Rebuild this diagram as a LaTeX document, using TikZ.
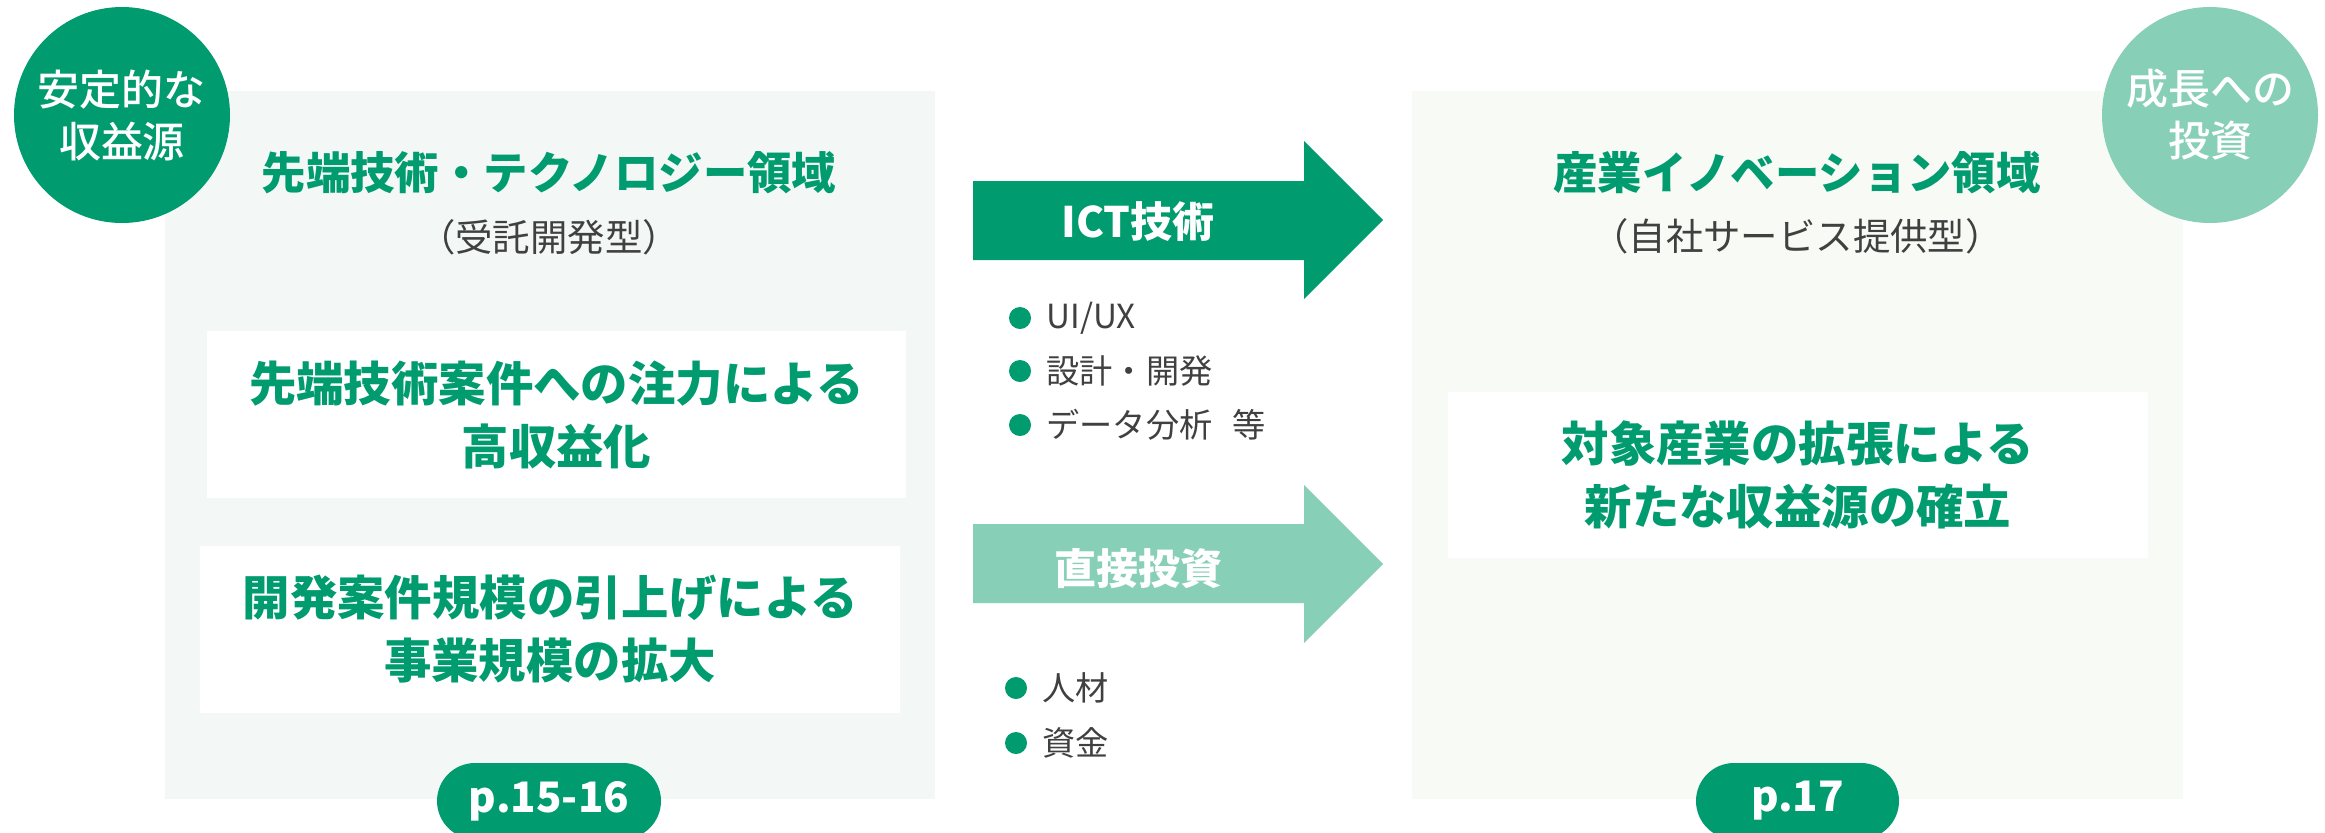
\documentclass[tikz,border=0pt]{standalone}
\usepackage{fontspec}
\setmainfont{Noto Sans CJK JP}
\newfontfamily\medfont{Noto Sans CJK JP Medium}
\definecolor{dg}{HTML}{009B6E}
\definecolor{lg}{HTML}{88CFB8}
\definecolor{bgl}{HTML}{F3F8F6}
\definecolor{bgr}{HTML}{F7FAF5}
\definecolor{gr}{HTML}{404040}
\tikzset{
  panel/.style={inner sep=0pt, minimum width=385pt, minimum height=354pt},
  wbox/.style={fill=white, inner sep=0pt, minimum width=350pt, minimum height=83.5pt, align=center, text=dg, font=\bfseries\fontsize{23.7pt}{31.5pt}\selectfont},
  ttl/.style={text=dg, inner sep=0pt, font=\bfseries\fontsize{22.2pt}{26pt}\selectfont},
  subttl/.style={text=gr, inner sep=0pt, font=\fontsize{18.7pt}{22pt}\selectfont},
  badge/.style={circle, inner sep=0pt, minimum size=108pt, align=center, text=white, font=\medfont\fontsize{21pt}{26pt}\selectfont},
  pill/.style={fill=dg, rounded corners=19pt, inner sep=0pt, minimum height=38pt, text=white, font=\bfseries\fontsize{21pt}{24pt}\selectfont},
  arrlabel/.style={text=white, inner sep=0pt, font=\bfseries\fontsize{21pt}{24pt}\selectfont},
  dot/.style={circle, fill=dg, inner sep=0pt, minimum size=11pt},
  btext/.style={anchor=west, text=gr, inner sep=0pt, font=\fontsize{16.6pt}{20pt}\selectfont}
}
\begin{document}
\begin{tikzpicture}[x=0.5pt, y=-0.5pt]
\path[use as bounding box, fill=white] (0,0) rectangle (2325,832);
\begin{scope}
\clip (0,0) rectangle (2325,832);
% panels
\node[panel, fill=bgl] (lp) at (550,445) {};
\node[panel, fill=bgr, minimum width=385.5pt] (rp) at (1797.5,445) {};
% left panel content
\node[ttl] (lt) at (549,173) {先端技術・テクノロジー領域};
\node[subttl] (ls) at (549,237) {（受託開発型）};
\node[wbox, minimum width=349.5pt] (b1) at (556.5,414.5) {先端技術案件への注力による\\高収益化};
\node[wbox] (b2) at (550,629.5) {開発案件規模の引上げによる\\事業規模の拡大};
\node[pill, minimum width=112pt] (p1) at (549,801) {p.15-16};
% right panel content
\node[ttl] (rt) at (1797,173) {産業イノベーション領域};
\node[subttl] (rs) at (1797,236) {（自社サービス提供型）};
\node[wbox, minimum height=83pt] (b3) at (1798,475) {対象産業の拡張による\\新たな収益源の確立};
\node[pill, minimum width=101.5pt] (p2) at (1797.5,801) {p.17};
% circles
\node[badge, fill=dg] (c1) at (122,115) {安定的な\\収益源};
\node[badge, fill=lg] (c2) at (2210,115) {成長への\\投資};
% arrows
\fill[dg] (973,181) -- (1304,181) -- (1304,141) -- (1383,220) -- (1304,299) -- (1304,260) -- (973,260) -- cycle;
\node[arrlabel] (a1) at (1138,222) {ICT技術};
\fill[lg] (973,524) -- (1304,524) -- (1304,485) -- (1383,564) -- (1304,643) -- (1304,603) -- (973,603) -- cycle;
\node[arrlabel] (a2) at (1138,569) {直接投資};
% bullets
\node[dot] (d1) at (1020,318) {};
\node[btext] (t1) at (1046,318) {UI/UX};
\node[dot] (d2) at (1020,371) {};
\node[btext] (t2) at (1046,371) {設計・開発};
\node[dot] (d3) at (1020,425) {};
\node[btext] (t3) at (1046,425) {データ分析\hspace{0.6em}等};
\node[dot] (d4) at (1016,688) {};
\node[btext] (t4) at (1042,688) {人材};
\node[dot] (d5) at (1016,743) {};
\node[btext] (t5) at (1042,743) {資金};
\end{scope}
\end{tikzpicture}
\end{document}
